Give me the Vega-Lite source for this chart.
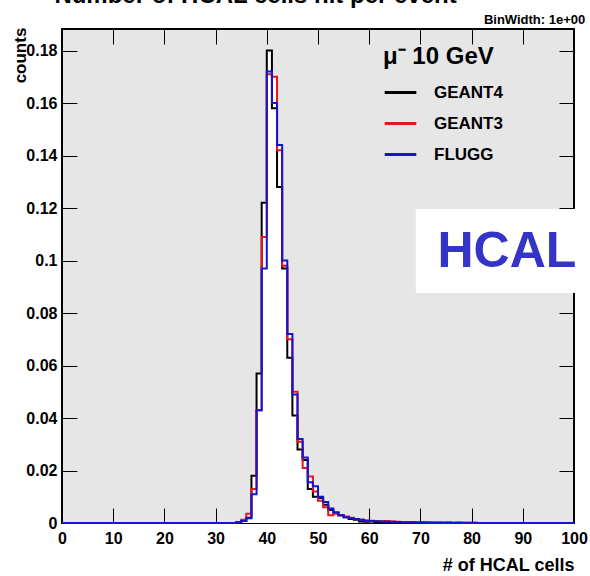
{
  "$schema": "https://vega.github.io/schema/vega-lite/v6.json",
  "width": 512,
  "height": 494,
  "autosize": {"type": "none"},
  "padding": {"left": 62, "top": 29, "right": 16, "bottom": 53},
  "background": "white",
  "config": {
    "view": {"fill": "#e6e6e6", "stroke": "black", "strokeWidth": 2},
    "font": "Liberation Sans"
  },
  "data": {"values": [
      {"bin": 0, "counts": 0, "sim": "GEANT4"},
      {"bin": 33, "counts": 0, "sim": "GEANT4"},
      {"bin": 34, "counts": 0.0003, "sim": "GEANT4"},
      {"bin": 35, "counts": 0.0008, "sim": "GEANT4"},
      {"bin": 36, "counts": 0.002, "sim": "GEANT4"},
      {"bin": 37, "counts": 0.018, "sim": "GEANT4"},
      {"bin": 38, "counts": 0.057, "sim": "GEANT4"},
      {"bin": 39, "counts": 0.122, "sim": "GEANT4"},
      {"bin": 40, "counts": 0.180, "sim": "GEANT4"},
      {"bin": 41, "counts": 0.158, "sim": "GEANT4"},
      {"bin": 42, "counts": 0.128, "sim": "GEANT4"},
      {"bin": 43, "counts": 0.097, "sim": "GEANT4"},
      {"bin": 44, "counts": 0.063, "sim": "GEANT4"},
      {"bin": 45, "counts": 0.041, "sim": "GEANT4"},
      {"bin": 46, "counts": 0.028, "sim": "GEANT4"},
      {"bin": 47, "counts": 0.024, "sim": "GEANT4"},
      {"bin": 48, "counts": 0.013, "sim": "GEANT4"},
      {"bin": 49, "counts": 0.010, "sim": "GEANT4"},
      {"bin": 50, "counts": 0.0095, "sim": "GEANT4"},
      {"bin": 51, "counts": 0.007, "sim": "GEANT4"},
      {"bin": 52, "counts": 0.005, "sim": "GEANT4"},
      {"bin": 53, "counts": 0.004, "sim": "GEANT4"},
      {"bin": 54, "counts": 0.003, "sim": "GEANT4"},
      {"bin": 55, "counts": 0.0022, "sim": "GEANT4"},
      {"bin": 56, "counts": 0.0015, "sim": "GEANT4"},
      {"bin": 57, "counts": 0.0012, "sim": "GEANT4"},
      {"bin": 58, "counts": 0.0006, "sim": "GEANT4"},
      {"bin": 59, "counts": 0.0005, "sim": "GEANT4"},
      {"bin": 60, "counts": 0.0006, "sim": "GEANT4"},
      {"bin": 61, "counts": 0.0004, "sim": "GEANT4"},
      {"bin": 62, "counts": 0.0004, "sim": "GEANT4"},
      {"bin": 63, "counts": 0.0003, "sim": "GEANT4"},
      {"bin": 64, "counts": 0.0003, "sim": "GEANT4"},
      {"bin": 65, "counts": 0.0002, "sim": "GEANT4"},
      {"bin": 66, "counts": 0.0003, "sim": "GEANT4"},
      {"bin": 67, "counts": 0.0002, "sim": "GEANT4"},
      {"bin": 68, "counts": 0.0002, "sim": "GEANT4"},
      {"bin": 69, "counts": 0.0001, "sim": "GEANT4"},
      {"bin": 70, "counts": 0.0002, "sim": "GEANT4"},
      {"bin": 71, "counts": 0.0001, "sim": "GEANT4"},
      {"bin": 72, "counts": 0.0001, "sim": "GEANT4"},
      {"bin": 73, "counts": 0.0001, "sim": "GEANT4"},
      {"bin": 74, "counts": 0.0001, "sim": "GEANT4"},
      {"bin": 75, "counts": 0.0001, "sim": "GEANT4"},
      {"bin": 76, "counts": 0, "sim": "GEANT4"},
      {"bin": 77, "counts": 0.0001, "sim": "GEANT4"},
      {"bin": 78, "counts": 0, "sim": "GEANT4"},
      {"bin": 100, "counts": 0, "sim": "GEANT4"},

      {"bin": 0, "counts": 0, "sim": "GEANT3"},
      {"bin": 33, "counts": 0, "sim": "GEANT3"},
      {"bin": 34, "counts": 0.0004, "sim": "GEANT3"},
      {"bin": 35, "counts": 0.0012, "sim": "GEANT3"},
      {"bin": 36, "counts": 0.0035, "sim": "GEANT3"},
      {"bin": 37, "counts": 0.013, "sim": "GEANT3"},
      {"bin": 38, "counts": 0.043, "sim": "GEANT3"},
      {"bin": 39, "counts": 0.109, "sim": "GEANT3"},
      {"bin": 40, "counts": 0.171, "sim": "GEANT3"},
      {"bin": 41, "counts": 0.170, "sim": "GEANT3"},
      {"bin": 42, "counts": 0.142, "sim": "GEANT3"},
      {"bin": 43, "counts": 0.098, "sim": "GEANT3"},
      {"bin": 44, "counts": 0.070, "sim": "GEANT3"},
      {"bin": 45, "counts": 0.050, "sim": "GEANT3"},
      {"bin": 46, "counts": 0.031, "sim": "GEANT3"},
      {"bin": 47, "counts": 0.021, "sim": "GEANT3"},
      {"bin": 48, "counts": 0.0177, "sim": "GEANT3"},
      {"bin": 49, "counts": 0.012, "sim": "GEANT3"},
      {"bin": 50, "counts": 0.0085, "sim": "GEANT3"},
      {"bin": 51, "counts": 0.006, "sim": "GEANT3"},
      {"bin": 52, "counts": 0.003, "sim": "GEANT3"},
      {"bin": 53, "counts": 0.0035, "sim": "GEANT3"},
      {"bin": 54, "counts": 0.003, "sim": "GEANT3"},
      {"bin": 55, "counts": 0.0025, "sim": "GEANT3"},
      {"bin": 56, "counts": 0.002, "sim": "GEANT3"},
      {"bin": 57, "counts": 0.0015, "sim": "GEANT3"},
      {"bin": 58, "counts": 0.0012, "sim": "GEANT3"},
      {"bin": 59, "counts": 0.001, "sim": "GEANT3"},
      {"bin": 60, "counts": 0.0009, "sim": "GEANT3"},
      {"bin": 61, "counts": 0.0008, "sim": "GEANT3"},
      {"bin": 62, "counts": 0.0007, "sim": "GEANT3"},
      {"bin": 63, "counts": 0.0008, "sim": "GEANT3"},
      {"bin": 64, "counts": 0.0006, "sim": "GEANT3"},
      {"bin": 65, "counts": 0.0005, "sim": "GEANT3"},
      {"bin": 66, "counts": 0.0004, "sim": "GEANT3"},
      {"bin": 67, "counts": 0.0004, "sim": "GEANT3"},
      {"bin": 68, "counts": 0.0003, "sim": "GEANT3"},
      {"bin": 69, "counts": 0.0003, "sim": "GEANT3"},
      {"bin": 70, "counts": 0.0003, "sim": "GEANT3"},
      {"bin": 71, "counts": 0.0002, "sim": "GEANT3"},
      {"bin": 72, "counts": 0.0002, "sim": "GEANT3"},
      {"bin": 73, "counts": 0.0002, "sim": "GEANT3"},
      {"bin": 74, "counts": 0.0001, "sim": "GEANT3"},
      {"bin": 75, "counts": 0.0002, "sim": "GEANT3"},
      {"bin": 76, "counts": 0.0001, "sim": "GEANT3"},
      {"bin": 77, "counts": 0.0001, "sim": "GEANT3"},
      {"bin": 78, "counts": 0.0001, "sim": "GEANT3"},
      {"bin": 79, "counts": 0.0001, "sim": "GEANT3"},
      {"bin": 80, "counts": 0.0001, "sim": "GEANT3"},
      {"bin": 81, "counts": 0, "sim": "GEANT3"},
      {"bin": 100, "counts": 0, "sim": "GEANT3"},

      {"bin": 0, "counts": 0, "sim": "FLUGG"},
      {"bin": 33, "counts": 0, "sim": "FLUGG"},
      {"bin": 34, "counts": 0.0003, "sim": "FLUGG"},
      {"bin": 35, "counts": 0.0008, "sim": "FLUGG"},
      {"bin": 36, "counts": 0.0018, "sim": "FLUGG"},
      {"bin": 37, "counts": 0.011, "sim": "FLUGG"},
      {"bin": 38, "counts": 0.043, "sim": "FLUGG"},
      {"bin": 39, "counts": 0.097, "sim": "FLUGG"},
      {"bin": 40, "counts": 0.172, "sim": "FLUGG"},
      {"bin": 41, "counts": 0.160, "sim": "FLUGG"},
      {"bin": 42, "counts": 0.144, "sim": "FLUGG"},
      {"bin": 43, "counts": 0.100, "sim": "FLUGG"},
      {"bin": 44, "counts": 0.072, "sim": "FLUGG"},
      {"bin": 45, "counts": 0.049, "sim": "FLUGG"},
      {"bin": 46, "counts": 0.032, "sim": "FLUGG"},
      {"bin": 47, "counts": 0.025, "sim": "FLUGG"},
      {"bin": 48, "counts": 0.0155, "sim": "FLUGG"},
      {"bin": 49, "counts": 0.014, "sim": "FLUGG"},
      {"bin": 50, "counts": 0.010, "sim": "FLUGG"},
      {"bin": 51, "counts": 0.008, "sim": "FLUGG"},
      {"bin": 52, "counts": 0.0055, "sim": "FLUGG"},
      {"bin": 53, "counts": 0.004, "sim": "FLUGG"},
      {"bin": 54, "counts": 0.003, "sim": "FLUGG"},
      {"bin": 55, "counts": 0.0022, "sim": "FLUGG"},
      {"bin": 56, "counts": 0.0018, "sim": "FLUGG"},
      {"bin": 57, "counts": 0.0015, "sim": "FLUGG"},
      {"bin": 58, "counts": 0.0012, "sim": "FLUGG"},
      {"bin": 59, "counts": 0.0009, "sim": "FLUGG"},
      {"bin": 60, "counts": 0.0008, "sim": "FLUGG"},
      {"bin": 61, "counts": 0.0007, "sim": "FLUGG"},
      {"bin": 62, "counts": 0.0006, "sim": "FLUGG"},
      {"bin": 63, "counts": 0.0005, "sim": "FLUGG"},
      {"bin": 64, "counts": 0.0005, "sim": "FLUGG"},
      {"bin": 65, "counts": 0.0004, "sim": "FLUGG"},
      {"bin": 66, "counts": 0.0003, "sim": "FLUGG"},
      {"bin": 67, "counts": 0.0003, "sim": "FLUGG"},
      {"bin": 68, "counts": 0.0003, "sim": "FLUGG"},
      {"bin": 69, "counts": 0.0002, "sim": "FLUGG"},
      {"bin": 70, "counts": 0.0002, "sim": "FLUGG"},
      {"bin": 71, "counts": 0.0002, "sim": "FLUGG"},
      {"bin": 72, "counts": 0.0001, "sim": "FLUGG"},
      {"bin": 73, "counts": 0.0001, "sim": "FLUGG"},
      {"bin": 74, "counts": 0.0001, "sim": "FLUGG"},
      {"bin": 75, "counts": 0.0001, "sim": "FLUGG"},
      {"bin": 76, "counts": 0.0001, "sim": "FLUGG"},
      {"bin": 77, "counts": 0.0001, "sim": "FLUGG"},
      {"bin": 78, "counts": 0.0001, "sim": "FLUGG"},
      {"bin": 79, "counts": 0.0001, "sim": "FLUGG"},
      {"bin": 80, "counts": 0.0001, "sim": "FLUGG"},
      {"bin": 81, "counts": 0, "sim": "FLUGG"},
      {"bin": 100, "counts": 0, "sim": "FLUGG"}
  ]},
  "resolve": {"axis": {"x": "independent", "y": "independent"}},
  "layer": [
    {
      "mark": {"type": "area", "interpolate": "step-after", "fill": "white"},
      "encoding": {
        "x": {
          "field": "bin", "type": "quantitative",
          "scale": {"domain": [0, 100], "nice": false},
          "axis": {
            "orient": "bottom", "domain": false, "grid": false,
            "tickColor": "black", "tickSize": -15, "tickWidth": 1,
            "labelFontSize": 16, "labelFontWeight": "bold", "labelPadding": 22, "labelColor": "black",
            "labelFlush": false,
            "title": "# of HCAL cells", "titleFontSize": 18, "titleFontWeight": "bold", "titleColor": "black",
            "titleAnchor": "end", "titleAlign": "right", "titleBaseline": "alphabetic",
            "titleX": 512, "titleY": 47
          }
        },
        "y": {
          "field": "counts", "type": "quantitative", "stack": null,
          "scale": {"domain": [0, 0.1882], "nice": false},
          "axis": {
            "orient": "left", "domain": false, "grid": false,
            "tickColor": "black", "tickSize": -15, "tickWidth": 1,
            "labelExpr": "format(datum.value, '~g')",
            "labelFontSize": 16, "labelFontWeight": "bold", "labelPadding": 20, "labelColor": "black",
            "labelFlush": false,
            "title": "counts", "titleFontSize": 17, "titleFontWeight": "bold", "titleColor": "black",
            "titleAngle": -90, "titleAlign": "center", "titleBaseline": "top",
            "titleX": -50, "titleY": 26
          }
        },
        "detail": {"field": "sim"}
      }
    },
    {
      "mark": {"type": "line", "interpolate": "step-after", "strokeWidth": 2},
      "encoding": {
        "x": {
          "field": "bin", "type": "quantitative",
          "scale": {"domain": [0, 100], "nice": false},
          "axis": {"orient": "top", "offset": -15, "tickColor": "black", "tickSize": 15, "tickWidth": 1, "domain": false, "grid": false, "labels": false, "title": null}
        },
        "y": {
          "field": "counts", "type": "quantitative",
          "scale": {"domain": [0, 0.1882], "nice": false},
          "axis": {"orient": "right", "offset": -15, "tickColor": "black", "tickSize": 15, "tickWidth": 1, "domain": false, "grid": false, "labels": false, "title": null}
        },
        "color": {
          "field": "sim", "type": "nominal",
          "scale": {"domain": ["GEANT4", "GEANT3", "FLUGG"], "range": ["#000000", "#e8141a", "#1414d2"]},
          "legend": {
            "orient": "none", "legendX": 321, "legendY": 16, "padding": 0,
            "title": "μ⁻ 10 GeV", "titleFontSize": 24, "titleFontWeight": "bold", "titleColor": "black", "titlePadding": 6,
            "symbolType": "stroke", "symbolSize": 1000, "symbolStrokeWidth": 3,
            "labelFontSize": 17, "labelFontWeight": "bold", "labelColor": "black", "labelOffset": 16,
            "rowPadding": 5
          }
        }
      }
    },
    {
      "data": {"values": [{}]},
      "mark": {"type": "rect", "fill": "white"},
      "encoding": {
        "x": {"datum": 69.1, "type": "quantitative", "axis": null},
        "x2": {"datum": 104},
        "y": {"datum": 0.0876, "type": "quantitative", "axis": null},
        "y2": {"datum": 0.1196}
      }
    },
    {
      "data": {"values": [{}]},
      "mark": {"type": "text", "text": "HCAL", "font": "Liberation Sans", "fontSize": 50, "fontWeight": "bold", "color": "#3434c8", "align": "center", "baseline": "middle"},
      "encoding": {
        "x": {"datum": 86.9, "type": "quantitative", "axis": null},
        "y": {"datum": 0.1032, "type": "quantitative", "axis": null}
      }
    },
    {
      "data": {"values": [{}]},
      "mark": {"type": "text", "text": "Number of HCAL cells hit per event", "fontSize": 24, "fontWeight": "bold", "color": "black", "align": "center", "baseline": "alphabetic"},
      "encoding": {
        "x": {"datum": 37.8, "type": "quantitative", "axis": null},
        "y": {"datum": 0.1981, "type": "quantitative", "axis": null}
      }
    },
    {
      "data": {"values": [{}]},
      "mark": {"type": "text", "text": "BinWidth: 1e+00", "fontSize": 13, "fontWeight": "bold", "color": "black", "align": "right", "baseline": "alphabetic"},
      "encoding": {
        "x": {"datum": 102.2, "type": "quantitative", "axis": null},
        "y": {"datum": 0.1901, "type": "quantitative", "axis": null}
      }
    }
  ]
}
